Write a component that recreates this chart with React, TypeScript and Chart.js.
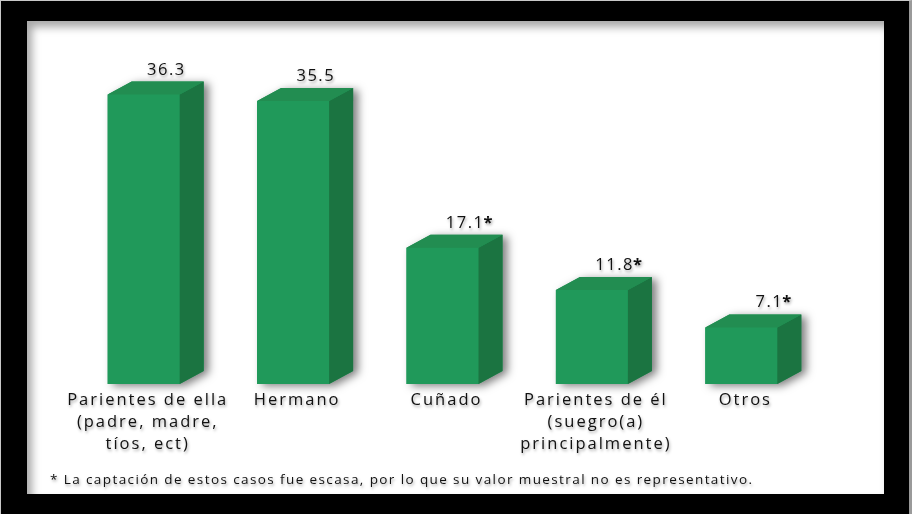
import React, { useEffect, useRef } from "react";
import { Chart, registerables } from "chart.js";

Chart.register(...registerables);

const categories: string[][] = [
  ["Parientes de ella", "(padre, madre,", "tíos, ect)"],
  ["Hermano"],
  ["Cuñado"],
  ["Parientes de él", "(suegro(a)", "principalmente)"],
  ["Otros"],
];
const values: number[] = [36.3, 35.5, 17.1, 11.8, 7.1];
const lowSample: boolean[] = [false, false, true, true, true];
const footnote =
  "* La captación de estos casos fue escasa, por lo que su valor muestral no es representativo.";

const FRONT = "#20995a";
const TOP = "#228d51";
const SIDE = "#1b7441";
const DX = 24;
const DY = 13;
const FONT = '"Open Sans", "DejaVu Sans", sans-serif';

function barGeom(el: any) {
  const p = el.getProps(["x", "y", "base", "width"], true);
  return { l: p.x - p.width / 2, r: p.x + p.width / 2, y: p.y, base: p.base, x: p.x };
}

const bar3d = {
  id: "bar3d",
  beforeDatasetsDraw(chart: any) {
    const ctx = chart.ctx;
    const meta = chart.getDatasetMeta(0);
    ctx.save();
    ctx.shadowColor = "rgba(0,0,0,0.5)";
    ctx.shadowBlur = 8;
    ctx.shadowOffsetX = 5;
    ctx.shadowOffsetY = 2;
    meta.data.forEach((el: any) => {
      const { l, r, y, base } = barGeom(el);
      ctx.beginPath();
      ctx.moveTo(l, base);
      ctx.lineTo(l, y);
      ctx.lineTo(l + DX, y - DY);
      ctx.lineTo(r + DX, y - DY);
      ctx.lineTo(r + DX, base - DY);
      ctx.lineTo(r, base);
      ctx.closePath();
      ctx.fillStyle = FRONT;
      ctx.fill();
    });
    ctx.restore();
  },
  afterDatasetsDraw(chart: any) {
    const ctx = chart.ctx;
    const meta = chart.getDatasetMeta(0);
    ctx.save();
    meta.data.forEach((el: any) => {
      const { l, r, y, base } = barGeom(el);
      ctx.beginPath();
      ctx.moveTo(r, y);
      ctx.lineTo(r + DX, y - DY);
      ctx.lineTo(r + DX, base - DY);
      ctx.lineTo(r, base);
      ctx.closePath();
      ctx.fillStyle = SIDE;
      ctx.fill();
      ctx.beginPath();
      ctx.moveTo(l, y);
      ctx.lineTo(l + DX, y - DY);
      ctx.lineTo(r + DX, y - DY);
      ctx.lineTo(r, y);
      ctx.closePath();
      ctx.fillStyle = TOP;
      ctx.fill();
    });
    ctx.restore();
  },
  afterDraw(chart: any) {
    const ctx = chart.ctx;
    const meta = chart.getDatasetMeta(0);
    ctx.save();
    ctx.shadowColor = "rgba(0,0,0,0.35)";
    ctx.shadowBlur = 3;
    ctx.shadowOffsetX = 1;
    ctx.shadowOffsetY = 2;
    ctx.fillStyle = "#111";
    meta.data.forEach((el: any, i: number) => {
      const { r, y, x } = barGeom(el);
      ctx.font = `16.5px ${FONT}`;
      (ctx as any).letterSpacing = "1.5px";
      ctx.textBaseline = "alphabetic";
      ctx.textAlign = "right";
      const ly = y - DY - 7;
      ctx.fillText(values[i].toFixed(1), r + 6, ly);
      if (lowSample[i]) {
        ctx.textAlign = "left";
        ctx.font = `bold 16.5px ${FONT}`;
        ctx.fillText("*", r + 5, ly);
      }
      ctx.font = `16.5px ${FONT}`;
      (ctx as any).letterSpacing = "2px";
      ctx.textAlign = "center";
      categories[i].forEach((t, k) => {
        ctx.fillText(t, x + 4, chart.chartArea.bottom + 21 + k * 22);
      });
    });
    ctx.font = `13.5px ${FONT}`;
    (ctx as any).letterSpacing = "1.4px";
    ctx.textAlign = "left";
    ctx.fillText(footnote, 23, 463);
    ctx.restore();
  },
};

export default function App() {
  const ref = useRef<HTMLCanvasElement | null>(null);
  useEffect(() => {
    if (!ref.current) return;
    const chart = new Chart(ref.current, {
      type: "bar",
      data: {
        labels: categories.map((c) => c.join(" ")),
        datasets: [
          {
            data: values,
            backgroundColor: FRONT,
            borderWidth: 0,
            barPercentage: 0.482,
            categoryPercentage: 1,
          },
        ],
      },
      options: {
        responsive: false,
        animation: false,
        devicePixelRatio: 1,
        layout: { padding: { left: 42, right: 68, top: 44, bottom: 110 } },
        plugins: { legend: { display: false }, tooltip: { enabled: false }, title: { display: false } },
        scales: {
          x: { display: false },
          y: { display: false, min: 0, max: 40 },
        },
      },
      plugins: [bar3d],
    });
    return () => chart.destroy();
  }, []);

  return (
    <div
      style={{
        position: "fixed",
        left: 0,
        top: 0,
        width: 912,
        height: 514,
        background: "#000",
        boxSizing: "border-box",
        borderTop: "1px solid #c8c8c8",
        borderLeft: "1px solid #c8c8c8",
        borderRight: "3px solid #9a9a9a",
      }}
    >
      <div
        style={{
          position: "absolute",
          left: 26,
          top: 20,
          width: 857,
          height: 473,
          background: "#fff",
          boxShadow: "inset 5px 6px 8px rgba(0,0,0,0.35)",
        }}
      >
        <canvas ref={ref} width={857} height={473} style={{ display: "block" }} />
      </div>
    </div>
  );
}
